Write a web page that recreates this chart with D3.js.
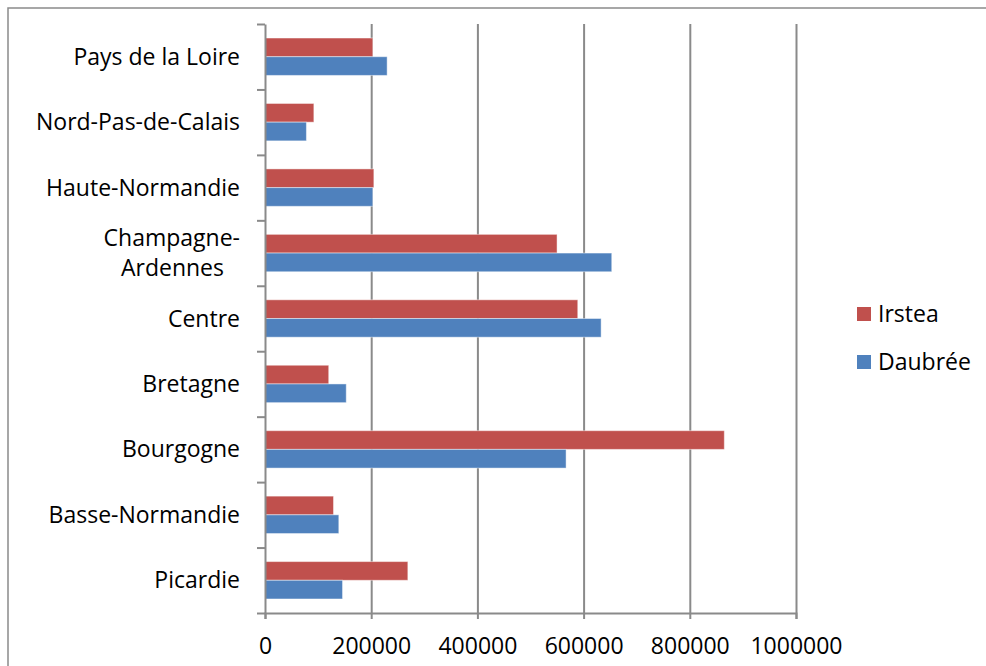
<!DOCTYPE html>
<html><head><meta charset="utf-8">
<script src="https://cdn.jsdelivr.net/npm/d3@7"></script>
<style>
body{margin:0;background:#fff}
text{font-family:"Open Sans",sans-serif;fill:#000}
</style>
</head><body>
<svg id="chart" width="986" height="666"></svg>
<script>
// Regions, top to bottom
const categories = ["Pays de la Loire","Nord-Pas-de-Calais","Haute-Normandie","Champagne-Ardennes","Centre","Bretagne","Bourgogne","Basse-Normandie","Picardie"];
const irstea  = [203000, 92000, 205000, 550000, 589000, 120000, 865000, 129000, 269000];
const daubree = [230000, 78000, 203000, 653000, 633000, 153000, 567000, 139000, 146000];
const xTicks = [0, 200000, 400000, 600000, 800000, 1000000];
const seriesNames = ["Irstea", "Daubrée"];
const seriesColors = ["#C0504D", "#4F81BD"];
// Multi-line category labels
const labelLines = {"Champagne-Ardennes": ["Champagne-", "Ardennes"]};

const svg = d3.select("#chart");
const plot = {left: 265, right: 796, top: 24, bottom: 613};
const gridColor = "#8a8a8a";
const labelSize = 23;

// outer chart frame
svg.append("rect").attr("x", 8).attr("y", 8).attr("width", 1000).attr("height", 700)
  .attr("fill", "none").attr("stroke", "#8a8a8a").attr("stroke-width", 1.5);

const x = d3.scaleLinear().domain([0, 1000000]).range([plot.left, plot.right]);
const y = d3.scaleBand().domain(categories).range([plot.top, plot.bottom]).paddingInner(0).paddingOuter(0);
const ySub = d3.scaleBand().domain(seriesNames).range([0, y.bandwidth()]).paddingInner(0).paddingOuter(0.75);
const color = d3.scaleOrdinal().domain(seriesNames).range(seriesColors);

// vertical gridlines
const grid = svg.append("g").attr("transform", `translate(0,${plot.bottom})`)
  .call(d3.axisBottom(x).tickValues(xTicks.slice(1)).tickSize(-(plot.bottom - plot.top)).tickFormat(""));
grid.select(".domain").remove();
grid.selectAll("line").attr("stroke", gridColor).attr("stroke-width", 2);

// bars
const rows = categories.map((c, i) => ({cat: c, values: [{s: "Irstea", v: irstea[i]}, {s: "Daubrée", v: daubree[i]}]}));
const rowG = svg.append("g").selectAll("g").data(rows).join("g")
  .attr("transform", d => `translate(0,${y(d.cat)})`);
rowG.selectAll("rect").data(d => d.values).join("rect")
  .attr("x", x(0))
  .attr("y", d => ySub(d.s))
  .attr("width", d => x(d.v) - x(0))
  .attr("height", ySub.bandwidth())
  .attr("fill", d => color(d.s))
  .attr("stroke", "rgba(255,255,255,0.45)")
  .attr("stroke-width", 1);

// x axis with tick labels
const xAxis = svg.append("g").attr("transform", `translate(0,${plot.bottom})`)
  .call(d3.axisBottom(x).tickValues(xTicks).tickSize(6).tickPadding(19).tickFormat(d3.format("d")));
xAxis.select(".domain").attr("stroke", gridColor).attr("stroke-width", 2);
xAxis.selectAll("line").attr("stroke", gridColor).attr("stroke-width", 2);
xAxis.selectAll("text").attr("font-size", labelSize).attr("font-family", "Open Sans");

// y axis: line and ticks at category boundaries
const yBound = d3.scaleLinear().domain([0, categories.length]).range([plot.top, plot.bottom]);
const yAxis = svg.append("g").attr("transform", `translate(${plot.left},0)`)
  .call(d3.axisLeft(yBound).ticks(categories.length).tickSize(8).tickFormat("").tickSizeOuter(0));
yAxis.select(".domain").attr("stroke", gridColor).attr("stroke-width", 2);
yAxis.selectAll("line").attr("stroke", gridColor).attr("stroke-width", 2);

// category labels
const lab = svg.append("g").selectAll("text").data(categories).join("text")
  .attr("text-anchor", "end")
  .attr("font-size", labelSize)
  .attr("transform", d => `translate(240,${y(d) + y.bandwidth() / 2})`);
lab.each(function(d) {
  const lines = labelLines[d] || [d];
  const t = d3.select(this);
  const lh = 30;
  lines.forEach((ln, i) => {
    t.append("tspan").attr("x", i === 0 ? 0 : -16)
      .attr("y", (i - (lines.length - 1) / 2) * lh)
      .attr("dy", "0.35em").text(ln);
  });
});

// legend
const legend = svg.append("g").attr("transform", "translate(857,0)");
const legY = [314, 362];
seriesNames.forEach((s, i) => {
  const g = legend.append("g").attr("transform", `translate(0,${legY[i]})`);
  g.append("rect").attr("x", 0).attr("y", -7).attr("width", 14).attr("height", 14).attr("fill", color(s));
  g.append("text").attr("x", 21).attr("y", 0).attr("dy", "0.35em").attr("font-size", labelSize).text(s);
});
</script>
</body></html>
